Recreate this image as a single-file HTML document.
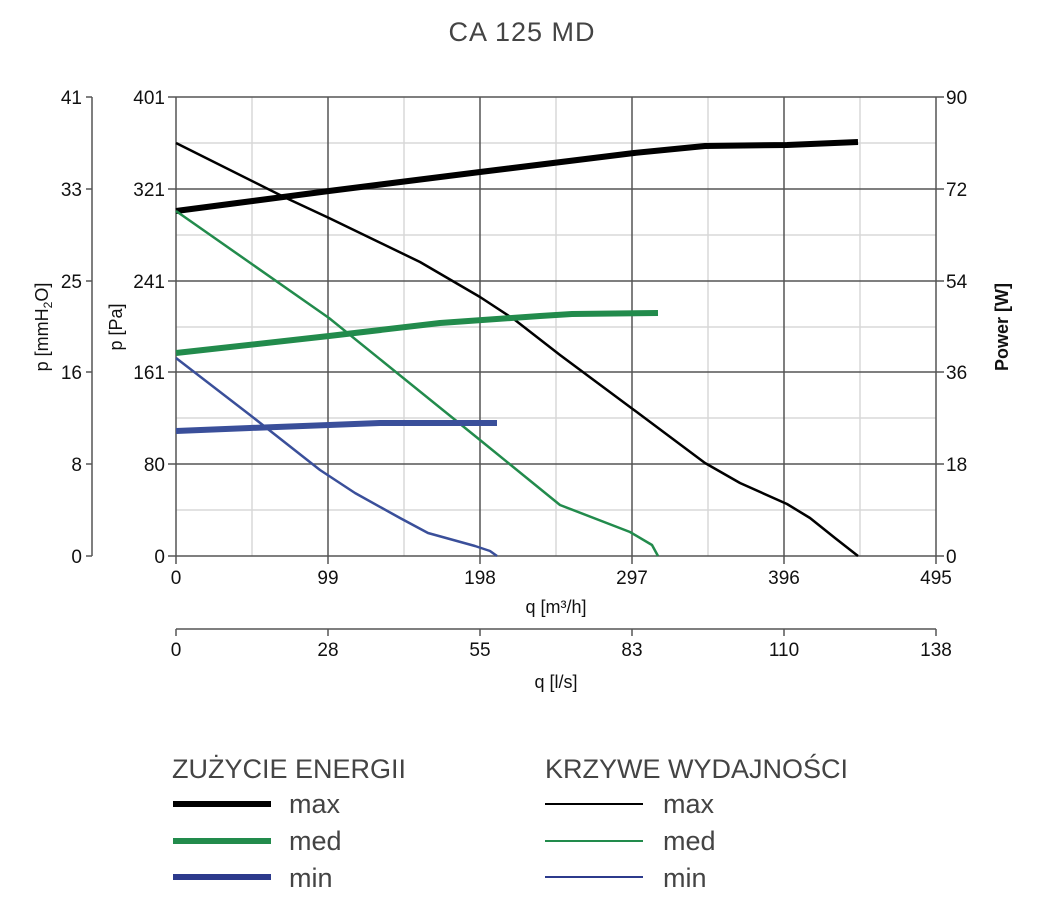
<!DOCTYPE html>
<html><head><style>body{margin:0;background:#fff}svg{display:block;font-family:"Liberation Sans",sans-serif}</style></head><body>
<svg width="1044" height="915" viewBox="0 0 1044 915">
<text x="522" y="41" text-anchor="middle" font-size="27" fill="#444" letter-spacing="1">CA 125 MD</text>
<g stroke="#d8d8d8" stroke-width="1.5">
<line x1="252" y1="97" x2="252" y2="556"/><line x1="404" y1="97" x2="404" y2="556"/><line x1="556" y1="97" x2="556" y2="556"/><line x1="708" y1="97" x2="708" y2="556"/><line x1="860" y1="97" x2="860" y2="556"/>
<line x1="176" y1="143" x2="936" y2="143"/><line x1="176" y1="235" x2="936" y2="235"/><line x1="176" y1="327" x2="936" y2="327"/><line x1="176" y1="418" x2="936" y2="418"/><line x1="176" y1="510" x2="936" y2="510"/>
</g>
<g stroke="#555" stroke-width="1.5">
<line x1="328" y1="97" x2="328" y2="556"/><line x1="480" y1="97" x2="480" y2="556"/><line x1="632" y1="97" x2="632" y2="556"/><line x1="784" y1="97" x2="784" y2="556"/>
<line x1="168" y1="97" x2="944" y2="97"/><line x1="168" y1="189" x2="944" y2="189"/><line x1="168" y1="281" x2="944" y2="281"/><line x1="168" y1="372" x2="944" y2="372"/><line x1="168" y1="464" x2="944" y2="464"/><line x1="168" y1="556" x2="944" y2="556"/>
<line x1="176" y1="97" x2="176" y2="564"/><line x1="936" y1="97" x2="936" y2="564"/>
<line x1="328" y1="556" x2="328" y2="564"/><line x1="480" y1="556" x2="480" y2="564"/><line x1="632" y1="556" x2="632" y2="564"/><line x1="784" y1="556" x2="784" y2="564"/>
<line x1="92" y1="97" x2="92" y2="556"/>
<line x1="86" y1="97" x2="92" y2="97"/><line x1="86" y1="189" x2="92" y2="189"/><line x1="86" y1="281" x2="92" y2="281"/><line x1="86" y1="372" x2="92" y2="372"/><line x1="86" y1="464" x2="92" y2="464"/><line x1="86" y1="556" x2="92" y2="556"/>
<line x1="176" y1="629" x2="936" y2="629"/>
<line x1="176" y1="629" x2="176" y2="636"/><line x1="328" y1="629" x2="328" y2="636"/><line x1="480" y1="629" x2="480" y2="636"/><line x1="632" y1="629" x2="632" y2="636"/><line x1="784" y1="629" x2="784" y2="636"/><line x1="936" y1="629" x2="936" y2="636"/>
</g>
<g font-size="19" fill="#111" text-anchor="end">
<text x="82" y="104">41</text><text x="82" y="196">33</text><text x="82" y="288">25</text><text x="82" y="379">16</text><text x="82" y="471">8</text><text x="82" y="563">0</text>
<text x="165" y="104">401</text><text x="165" y="196">321</text><text x="165" y="288">241</text><text x="165" y="379">161</text><text x="165" y="471">80</text><text x="165" y="563">0</text>
</g>
<g font-size="19" fill="#111">
<text x="946" y="104">90</text><text x="946" y="196">72</text><text x="946" y="288">54</text><text x="946" y="379">36</text><text x="946" y="471">18</text><text x="946" y="563">0</text>
</g>
<g font-size="19" fill="#111" text-anchor="middle">
<text x="176" y="584">0</text><text x="328" y="584">99</text><text x="480" y="584">198</text><text x="632" y="584">297</text><text x="784" y="584">396</text><text x="936" y="584">495</text>
<text x="176" y="656">0</text><text x="328" y="656">28</text><text x="480" y="656">55</text><text x="632" y="656">83</text><text x="784" y="656">110</text><text x="936" y="656">138</text>
</g>
<g font-size="18" fill="#111" text-anchor="middle">
<text x="556" y="613">q [m³/h]</text><text x="556" y="688">q [l/s]</text>
</g>
<text transform="translate(48,327) rotate(-90)" text-anchor="middle" font-size="18" fill="#111">p [mmH<tspan font-size="12" dy="4">2</tspan><tspan dy="-4">O]</tspan></text>
<text transform="translate(122,327) rotate(-90)" text-anchor="middle" font-size="18" fill="#111">p [Pa]</text>
<text transform="translate(1008,327) rotate(-90)" text-anchor="middle" font-size="18" font-weight="bold" fill="#111">Power [W]</text>
<g fill="none" stroke-linejoin="round">
<polyline stroke="#000" stroke-width="2.5" points="176,143 284,197 329,218 420,262 480,297 515,320 560,355 634,410 705,463 740,483 787,504 810,518 835,538 858,556"/>
<polyline stroke="#000" stroke-width="6" points="176,211 329,191 480,172 634,153 705,146 787,145 858,142"/>
<polyline stroke="#228b4c" stroke-width="2.5" points="176,211 329,318 480,440 560,505 630,532 652,545 658,556"/>
<polyline stroke="#228b4c" stroke-width="6" points="176,353 329,336 440,323 540,316 572,314 658,313"/>
<polyline stroke="#3a4f9a" stroke-width="2.5" points="176,358 250,415 320,470 355,493 400,518 428,533 475,546 490,551 497,556"/>
<polyline stroke="#3a4f9a" stroke-width="6" points="176,431 250,428 329,425 380,423 497,423"/>
</g>
<g font-size="27" fill="#444">
<text x="172" y="778">ZUŻYCIE ENERGII</text><text x="545" y="778">KRZYWE WYDAJNOŚCI</text>
<text x="289" y="813">max</text><text x="289" y="850">med</text><text x="289" y="887">min</text>
<text x="663" y="813">max</text><text x="663" y="850">med</text><text x="663" y="887">min</text>
</g>
<line x1="173" y1="804" x2="271" y2="804" stroke="#000" stroke-width="6"/>
<line x1="173" y1="841" x2="271" y2="841" stroke="#228b4c" stroke-width="6"/>
<line x1="173" y1="877" x2="271" y2="877" stroke="#2c3a8c" stroke-width="6"/>
<line x1="545" y1="804" x2="643" y2="804" stroke="#000" stroke-width="2"/>
<line x1="545" y1="841" x2="643" y2="841" stroke="#228b4c" stroke-width="2"/>
<line x1="545" y1="877" x2="643" y2="877" stroke="#2c3a8c" stroke-width="2"/>
</svg>
</body></html>
